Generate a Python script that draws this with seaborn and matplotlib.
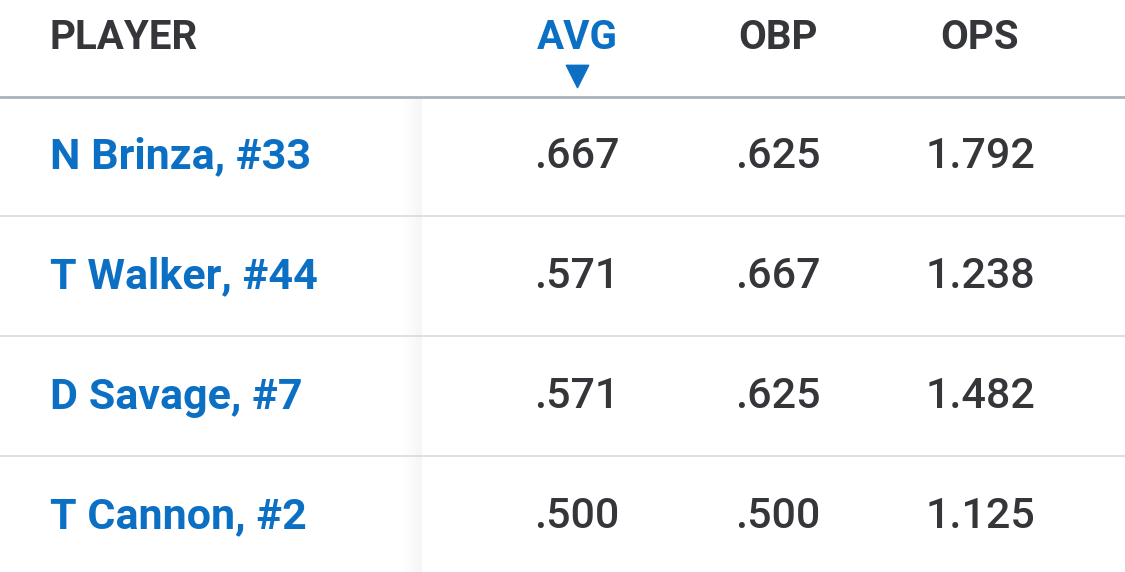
"""Batting leaders table recreated with seaborn/matplotlib."""

import matplotlib

matplotlib.use("Agg")
import matplotlib.pyplot as plt
import numpy as np
import seaborn as sns

players = ["N Brinza, #33", "T Walker, #44", "D Savage, #7", "T Cannon, #2"]
columns = ["AVG", "OBP", "OPS"]
avg = [".667", ".571", ".571", ".500"]
obp = [".625", ".667", ".625", ".500"]
ops = ["1.792", "1.238", "1.482", "1.125"]

BLUE = "#0b6fc4"
DARK = "#35363a"

sns.set_theme(style="white", font="Roboto")

fig = plt.figure(figsize=(11.25, 5.72), dpi=100)
ax = fig.add_axes([0, 0, 1, 1])
ax.set_xlim(0, 1125)
ax.set_ylim(572, 0)
ax.axis("off")

# soft shadow at the edge of the frozen player column
shade = np.linspace(0.0, 0.08, 20)[None, :]
ax.imshow(shade, cmap="Greys", vmin=0, vmax=1, extent=(402, 422, 572, 97),
          aspect="auto", zorder=0)

col_x = [577, 778, 980]
ax.text(50, 38, "PLAYER", color=DARK, fontsize=29, fontweight="bold", va="center")
for x, name in zip(col_x, columns):
    ax.text(x, 38, name, color=BLUE if name == "AVG" else DARK, fontsize=29,
            fontweight="bold", va="center", ha="center")
ax.scatter([col_x[0]], [76], marker="v", s=260, color=BLUE, zorder=3)

ax.axhline(97, color="#a9b3bb", linewidth=2)
row_y = [157, 277, 397, 517]
for y in row_y[:-1]:
    ax.axhline(y + 59, color="#d3dbe2", linewidth=1.2)

for y, name, a, o, p in zip(row_y, players, avg, obp, ops):
    ax.text(50, y, name, color=BLUE, fontsize=31, fontweight="bold", va="center")
    for x, val in zip(col_x, [a, o, p]):
        ax.text(x, y, val, color=DARK, fontsize=31, fontweight="medium",
                va="center", ha="center")

fig.savefig("out.png", dpi=100)
